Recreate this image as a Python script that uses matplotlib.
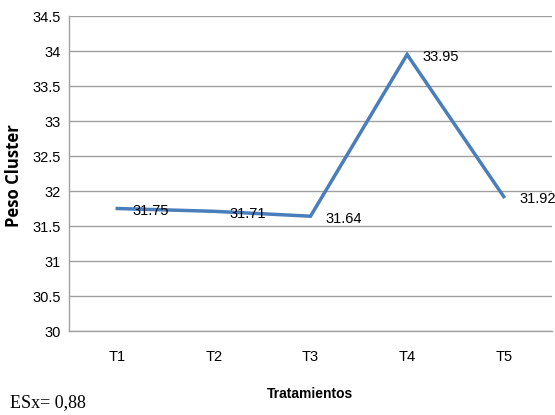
import matplotlib
matplotlib.use("Agg")
import matplotlib.pyplot as plt

categories = ["T1", "T2", "T3", "T4", "T5"]
peso = [31.75, 31.71, 31.64, 33.95, 31.92]
yticks = [30, 30.5, 31, 31.5, 32, 32.5, 33, 33.5, 34, 34.5]
ytick_labels = ["30", "30.5", "31", "31.5", "32", "32.5", "33", "33.5", "34", "34.5"]

sans = ["Liberation Sans Narrow", "Liberation Sans", "DejaVu Sans"]

fig = plt.figure(figsize=(5.55, 4.15), dpi=100)
ax = fig.add_axes([0.1243, 0.2024, 0.8703, 0.759])

x = list(range(len(categories)))
ax.plot(x, peso, color="#4A7EBB", lw=2.5, solid_joinstyle="miter", zorder=3)

# data labels to the right of each point
for xi, yi in zip(x, peso):
    ax.annotate(f"{yi:.2f}", (xi, yi), xytext=(11, -2), textcoords="offset points",
                ha="left", va="center", fontsize=10.5, family=sans)

ax.set_xlim(-0.5, 4.5)
ax.set_ylim(30, 34.5)
ax.set_yticks(yticks)
ax.set_yticklabels(ytick_labels, family=sans, fontsize=10.5)
ax.set_xticks(x)
ax.set_xticklabels(categories, family=sans, fontsize=10.5)
ax.tick_params(axis="both", length=0)
ax.tick_params(axis="x", pad=14)
ax.tick_params(axis="y", pad=6)

ax.grid(axis="y", color="#a0a0a0", lw=1)
ax.set_axisbelow(True)
for side in ["top", "right"]:
    ax.spines[side].set_visible(False)
for side in ["left", "bottom"]:
    ax.spines[side].set_color("#a0a0a0")
    ax.spines[side].set_linewidth(1)

ax.set_xlabel("Tratamientos", fontsize=10, fontweight="bold", family=sans, labelpad=16)
fig.text(0.025, 0.578, "Peso Cluster", rotation=90, fontsize=12, fontweight="bold",
         ha="center", va="center", family=["Open Sans", "DejaVu Sans"])
fig.text(0.018, 0.02, "ESx= 0,88", fontsize=13, family=["Liberation Serif", "DejaVu Serif"])

fig.savefig("out.png", dpi=100)
